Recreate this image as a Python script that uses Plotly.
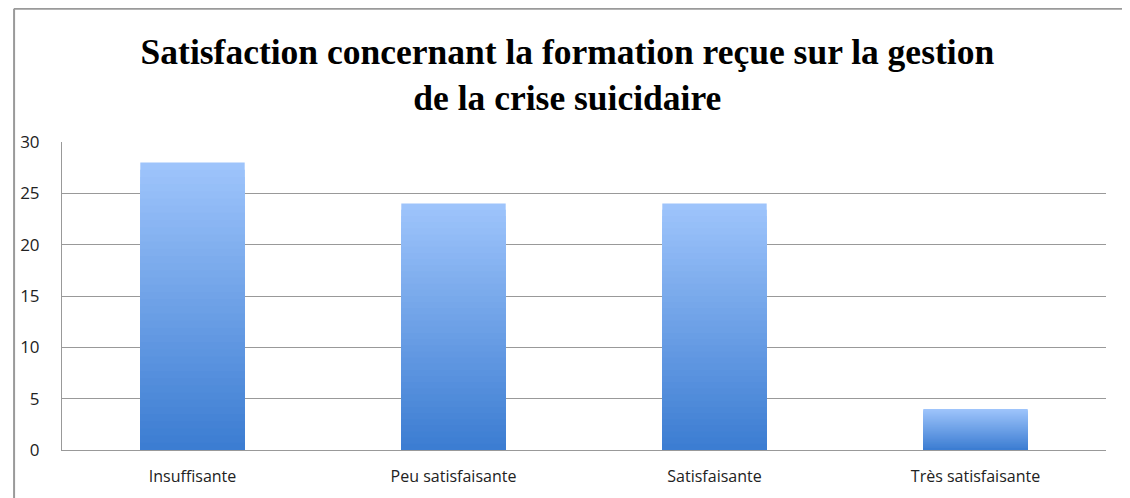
import plotly.graph_objects as go

categories = ["Insuffisante", "Peu satisfaisante", "Satisfaisante", "Très satisfaisante"]
values = [28, 24, 24, 4]
y_ticks = [0, 5, 10, 15, 20, 25, 30]

title = "<b>Satisfaction concernant la formation reçue sur la gestion<br>de la crise suicidaire</b>"

# bars get a vertical gradient by stacking shorter and darker bars over each other
top_rgb = (158, 196, 251)
bottom_rgb = (60, 125, 210)
steps = 40

fig = go.Figure()
for k in range(steps):
    t = k / (steps - 1)
    rgb = tuple(round(a + (b - a) * t) for a, b in zip(top_rgb, bottom_rgb))
    frac = (steps - k) / steps
    fig.add_trace(
        go.Bar(
            x=categories,
            y=[v * frac for v in values],
            marker=dict(color=f"rgb{rgb}", line=dict(width=0)),
            hoverinfo="skip" if k else "x+y",
            showlegend=False,
        )
    )

# the page puts the figure 8px in from the top-left, margins make up for that
fig.update_layout(
    width=1130,
    height=498,
    margin=dict(l=49, r=32, t=134, b=56),
    paper_bgcolor="white",
    plot_bgcolor="white",
    barmode="overlay",
    bargap=0.6,
    title=dict(
        text=title,
        x=0.495,
        xanchor="center",
        y=0.888,
        yanchor="middle",
        font=dict(family="Times New Roman, Liberation Serif, serif", size=35.5, color="black"),
    ),
    font=dict(family="Open Sans", size=16, color="#222222"),
    xaxis=dict(
        showgrid=False,
        showline=True,
        linecolor="#999999",
        linewidth=1,
        ticks="",
        ticklabelstandoff=12,
        tickfont=dict(size=16),
    ),
    yaxis=dict(
        range=[0, 30],
        tickvals=y_ticks,
        showgrid=True,
        gridcolor="#999999",
        gridwidth=1,
        showline=True,
        linecolor="#999999",
        linewidth=1,
        zeroline=False,
        ticks="",
        ticklabelstandoff=18,
        tickfont=dict(size=17),
    ),
    shapes=[
        dict(type="line", xref="paper", yref="paper", x0=-0.046, x1=1.1, y0=1.433, y1=1.433,
             line=dict(color="#9a9a9a", width=2)),
        dict(type="line", xref="paper", yref="paper", x0=-0.0459, x1=-0.0459, y0=1.433, y1=-0.3,
             line=dict(color="#9a9a9a", width=2)),
    ],
)

fig.write_html("out.html")
